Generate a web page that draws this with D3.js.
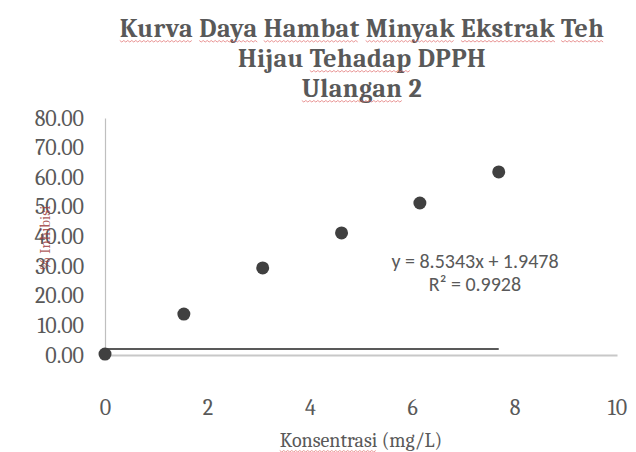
<!DOCTYPE html>
<html>
<head>
<meta charset="utf-8">
<script src="https://cdn.jsdelivr.net/npm/d3@7"></script>
<style>
  html, body { margin: 0; padding: 0; background: #fff; }
  svg { display: block; }
  .tick text { fill: #595959; }
</style>
</head>
<body>
<div id="chart"></div>
<script>
// data
var konsentrasi = [0, 1.54, 3.08, 4.62, 6.15, 7.69];
var inhibisi = [0.3, 13.8, 29.4, 41.2, 51.3, 61.8];
var trendX = [0, 7.69];          // trendline as drawn (flat)
var trendY = [2.0, 2.0];
var yTicks = [0, 10, 20, 30, 40, 50, 60, 70, 80];
var xTicks = [0, 2, 4, 6, 8, 10];
var titleLines = ["Kurva Daya Hambat Minyak Ekstrak Teh", "Hijau Tehadap DPPH", "Ulangan 2"];
var flagged = ["Kurva", "Daya", "Hambat", "Minyak", "Ekstrak", "Teh", "Tehadap", "Ulangan"]; // red squiggles
var equation = ["y = 8.5343x + 1.9478", "R\u00b2 = 0.9928"];

var width = 636, height = 452;
var serif = "Cambria, 'Liberation Serif', 'DejaVu Serif', serif";

var svg = d3.select("#chart").append("svg")
    .attr("width", width)
    .attr("height", height);

var x = d3.scaleLinear().domain([0, 10]).range([105, 617]);
var y = d3.scaleLinear().domain([0, 80]).range([355, 118]);

// title
var title = svg.append("g").attr("class", "title");
titleLines.forEach(function (line, i) {
    var t = title.append("text")
        .attr("x", 362)
        .attr("y", 37 + i * 30)
        .attr("text-anchor", "middle")
        .style("font-family", serif)
        .style("font-weight", "bold")
        .style("font-size", "26px")
        .style("letter-spacing", "0.4px")
        .style("fill", "#595959")
        .text(line);
    underlineWords(t, line, 4);
});

// draws the spell-check squiggle under flagged words
function underlineWords(t, line, off) {
    var node = t.node();
    var base = +t.attr("y") + off;
    var pos = 0;
    line.split(" ").forEach(function (w) {
        if (flagged.indexOf(w) != -1) {
            var x0 = node.getStartPositionOfChar(pos).x;
            var x1 = node.getEndPositionOfChar(pos + w.length - 1).x;
            var pts = [];
            for (var px = x0; px <= x1; px += 2) pts.push([px, base + ((px - x0) / 2 % 2 ? 1 : -0.5)]);
            svg.append("path")
                .attr("d", d3.line()(pts))
                .attr("fill", "none")
                .attr("stroke", "#e06a6a")
                .attr("stroke-opacity", 0.7)
                .attr("stroke-width", 1);
        }
        pos += w.length + 1;
    });
}

// axes
var yAxis = d3.axisLeft(y).tickValues(yTicks).tickSize(0).tickPadding(21)
    .tickFormat(d3.format(".2f"));
var gy = svg.append("g").attr("transform", "translate(105,0)").call(yAxis);
gy.select(".domain").attr("stroke", "#bfbfbf").attr("stroke-width", 1.2);
gy.selectAll(".tick text")
    .style("font-family", serif)
    .style("font-size", "22px");

var xAxis = d3.axisBottom(x).tickValues(xTicks).tickSize(0).tickPadding(0);
var gx = svg.append("g").attr("transform", "translate(0,355)").call(xAxis);
gx.select(".domain").attr("stroke", "#c8c8c8").attr("stroke-width", 2);
gx.selectAll(".tick text")
    .attr("y", 60)
    .attr("dy", 0)
    .style("font-family", serif)
    .style("font-size", "22px");

// axis titles
var xt = svg.append("text")
    .attr("x", 361)
    .attr("y", 447)
    .attr("text-anchor", "middle")
    .style("font-family", serif)
    .style("font-size", "20px")
    .style("fill", "#595959")
    .text("Konsentrasi (mg/L)");
flagged.push("Konsentrasi");
underlineWords(xt, "Konsentrasi (mg/L)", 4);

svg.append("text")
    .attr("transform", "translate(50,238) rotate(-90)")
    .attr("text-anchor", "middle")
    .style("font-family", serif)
    .style("font-size", "15px")
    .style("fill", "#a04040")
    .style("fill-opacity", 0.85)
    .text("% Inhibisi");

// trendline
svg.append("line")
    .attr("x1", x(trendX[0])).attr("x2", x(trendX[1]))
    .attr("y1", y(trendY[0])).attr("y2", y(trendY[1]))
    .attr("stroke", "#595959")
    .attr("stroke-width", 2);

// points
svg.selectAll(".dot")
    .data(konsentrasi)
    .enter().append("circle")
    .attr("class", "dot")
    .attr("cx", function (d) { return x(d); })
    .attr("cy", function (d, i) { return y(inhibisi[i]); })
    .attr("r", 6.5)
    .attr("fill", "#404040");

// equation label
svg.selectAll(".eq")
    .data(equation)
    .enter().append("text")
    .attr("class", "eq")
    .attr("x", 475)
    .attr("y", function (d, i) { return 268 + i * 23; })
    .attr("text-anchor", "middle")
    .style("font-family", "Carlito, 'Liberation Sans', sans-serif")
    .style("font-size", "20px")
    .style("fill", "#595959")
    .text(function (d) { return d; });
</script>
</body>
</html>
